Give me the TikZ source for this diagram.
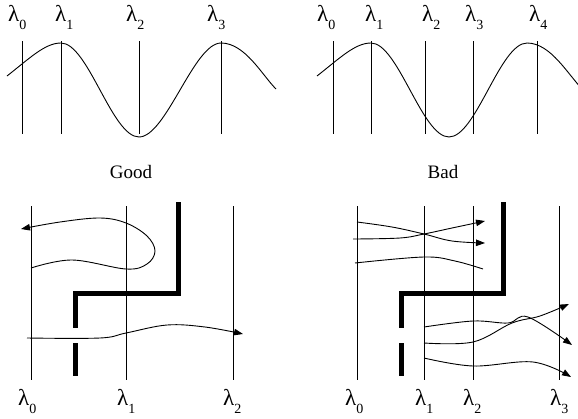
\documentclass[tikz,border=0pt]{standalone}
\usepackage{fontspec}
\setmainfont{Liberation Serif}
\usetikzlibrary{arrows.meta}
\newcommand\lamlab[1]{λ\raisebox{-8pt}{\fontsize{14}{14}\selectfont #1}}
\tikzset{
  thin line/.style={line width=0.9pt},
  wall/.style={line width=5pt, line join=miter},
  wave/.style={line width=0.9pt},
  arr/.style={wave, -{Triangle[length=9pt,width=6.5pt]}},
  lab/.style={font=\fontsize{23}{23}\selectfont, inner sep=0pt, anchor=base west},
  captext/.style={font=\fontsize{19}{19}\selectfont, inner sep=0pt}
}
\begin{document}
\begin{tikzpicture}[x=1pt,y=-1pt]
\useasboundingbox (0,0) rectangle (578,418);
% ---------- top left ----------
\foreach \x in {22,61,139,221} \draw[thin line] (\x,41) -- (\x,134);
\node[lab] (tl0) at (8,21) {\lamlab{0}};
\node[lab] (tl1) at (55,21) {\lamlab{1}};
\node[lab] (tl2) at (126,21) {\lamlab{2}};
\node[lab] (tl3) at (207,21) {\lamlab{3}};
\draw[wave] (7,76) .. controls (30,58) and (45,43) .. (61,43)
  .. controls (88,43) and (112,137) .. (139,137)
  .. controls (166,137) and (194,43) .. (221,43)
  .. controls (245,43) and (262,75) .. (276,89);
\node[captext] (good) at (131,172) {Good};
% ---------- top right ----------
\foreach \x in {333,371,425,473,537} \draw[thin line] (\x,41) -- (\x,134);
\node[lab] (tr0) at (317,21) {\lamlab{0}};
\node[lab] (tr1) at (365,21) {\lamlab{1}};
\node[lab] (tr2) at (422,21) {\lamlab{2}};
\node[lab] (tr3) at (465,21) {\lamlab{3}};
\node[lab] (tr4) at (529,21) {\lamlab{4}};
\begin{scope}
\clip (290,0) rectangle (578,160);
\draw[wave] (317,76) .. controls (340,58) and (355,43) .. (371,43)
  .. controls (398,43) and (422,137) .. (449,137)
  .. controls (476,137) and (500,43) .. (527,43)
  .. controls (551,43) and (568,75) .. (584,91);
\end{scope}
\node[captext] (bad) at (443,172) {Bad};
% ---------- bottom left ----------
\foreach \x in {31,126,233} \draw[thin line] (\x,206) -- (\x,380);
\node[lab] (bl0) at (18,405) {\lamlab{0}};
\node[lab] (bl1) at (117,405) {\lamlab{1}};
\node[lab] (bl2) at (223,405) {\lamlab{2}};
\draw[wall] (178,202) -- (178,293) -- (75,293) -- (75,328);
\draw[wall] (75,343) -- (75,376);
\draw[arr] plot[smooth, tension=0.6] coordinates
  {(31,268) (72,260) (126,269) (147,264) (155,251) (147,236) (126,223) (100,218) (60,222) (21,229)};
\draw[arr] plot[smooth, tension=0.6] coordinates
  {(27,338) (100,338) (126,333) (167,325) (205,327) (243,334)};
% ---------- bottom right ----------
\foreach \x in {357,424,473,559} \draw[thin line] (\x,206) -- (\x,380);
\node[lab] (br0) at (345,405) {\lamlab{0}};
\node[lab] (br1) at (415,405) {\lamlab{1}};
\node[lab] (br2) at (463,405) {\lamlab{2}};
\node[lab] (br3) at (550,405) {\lamlab{3}};
\draw[wall] (503,202) -- (503,293) -- (401,293) -- (401,328);
\draw[wall] (401,343) -- (401,376);
\draw[arr] plot[smooth, tension=0.6] coordinates
  {(357,222) (392,227) (424,234) (452,241) (485,243)};
\draw[arr] plot[smooth, tension=0.6] coordinates
  {(353,239) (400,238) (424,234) (452,228) (485,221)};
\draw[wave] plot[smooth, tension=0.6] coordinates
  {(355,263) (424,257) (455,261) (483,269)};
\draw[arr] plot[smooth, tension=0.6] coordinates
  {(424,327) (473,321) (508,323) (528,317) (572,345)};
\draw[arr] plot[smooth, tension=0.6] coordinates
  {(424,343) (473,342) (512,323) (540,316) (569,304)};
\draw[arr] plot[smooth, tension=0.6] coordinates
  {(424,358) (473,366) (533,362) (571,377)};
\end{tikzpicture}
\end{document}
